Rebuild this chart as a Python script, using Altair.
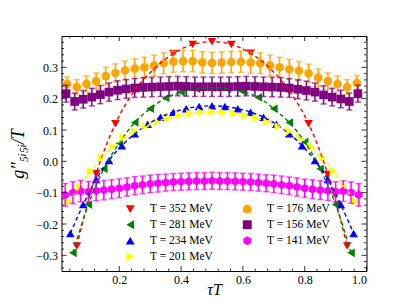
import altair as alt
import pandas as pd

# ---------------- data ----------------
series_labels = ["T = 352 MeV", "T = 281 MeV", "T = 234 MeV", "T = 201 MeV",
                 "T = 176 MeV", "T = 156 MeV", "T = 141 MeV"]
series_nt = [16, 20, 24, 28, 32, 36, 40]
series_fit = [True, True, True, True, False, False, False]
colors = ["#ff0000", "#008000", "#0000ff", "#ffff00", "#ffa500", "#800080", "#ff00ff"]
HEX = "M0,-1L0.866,-0.5L0.866,0.5L0,1L-0.866,0.5L-0.866,-0.5Z"
shapes = ["triangle-down", "triangle-left", "triangle-up", "triangle-right",
          "circle", "square", HEX]

g352 = [-0.27, -0.04, 0.12, 0.227, 0.295, 0.344, 0.373, 0.382, 0.373, 0.345,
        0.297, 0.225, 0.12, -0.042, -0.27]
g281 = [-0.292, -0.138, -0.024, 0.058, 0.124, 0.168, 0.202, 0.221, 0.232, 0.235,
        0.232, 0.222, 0.204, 0.168, 0.124, 0.062, -0.024, -0.138, -0.292]
g234 = [-0.23, -0.138, -0.058, 0.003, 0.05, 0.088, 0.118, 0.141, 0.157, 0.168,
        0.175, 0.177, 0.175, 0.168, 0.157, 0.141, 0.118, 0.088, 0.05, 0.003,
        -0.058, -0.138, -0.23]
g201 = [-0.13, -0.083, -0.032, 0.012, 0.046, 0.075, 0.095, 0.112, 0.126, 0.138,
        0.147, 0.153, 0.157, 0.158, 0.157, 0.153, 0.147, 0.138, 0.126, 0.112,
        0.095, 0.075, 0.046, 0.012, -0.032, -0.082, -0.128]
g176 = [0.247, 0.237, 0.247, 0.256, 0.272, 0.282, 0.29, 0.296, 0.30, 0.306,
        0.313, 0.318, 0.32, 0.32, 0.316, 0.314, 0.315, 0.317, 0.318, 0.315,
        0.313, 0.306, 0.30, 0.294, 0.289, 0.281, 0.267, 0.256, 0.247, 0.237, 0.25]
g156 = [0.216, 0.191, 0.198, 0.205, 0.213, 0.221, 0.227, 0.231, 0.234, 0.236,
        0.237, 0.238, 0.239, 0.24, 0.239, 0.238, 0.238, 0.238, 0.238, 0.238,
        0.239, 0.24, 0.239, 0.238, 0.237, 0.236, 0.234, 0.23, 0.226, 0.221,
        0.212, 0.205, 0.199, 0.191, 0.216]
g141 = [-0.107, -0.10, -0.095, -0.097, -0.094, -0.092, -0.089, -0.086, -0.082,
        -0.078, -0.075, -0.072, -0.07, -0.068, -0.066, -0.065, -0.064, -0.063,
        -0.063, -0.062, -0.063, -0.063, -0.064, -0.065, -0.066, -0.068, -0.07,
        -0.072, -0.075, -0.078, -0.082, -0.086, -0.089, -0.092, -0.094, -0.097,
        -0.095, -0.10, -0.107]

e352 = [0.0] * 15
e281 = [0.0] * 19
e234 = [0.0] * 23
e201 = [0.0] * 27
e176 = [0.022, 0.024, 0.025, 0.026, 0.028, 0.029, 0.030, 0.031, 0.032, 0.033,
        0.033, 0.034, 0.034, 0.034, 0.034, 0.034, 0.034, 0.034, 0.034, 0.034,
        0.033, 0.033, 0.032, 0.031, 0.030, 0.029, 0.028, 0.026, 0.025, 0.024, 0.024]
e156 = [0.027, 0.027, 0.028, 0.028, 0.029, 0.029, 0.030, 0.030, 0.030, 0.031,
        0.031, 0.031, 0.031, 0.031, 0.031, 0.031, 0.031, 0.031, 0.031, 0.031,
        0.031, 0.031, 0.031, 0.031, 0.031, 0.031, 0.030, 0.030, 0.030, 0.029,
        0.029, 0.028, 0.028, 0.027, 0.027]
e141 = [0.036, 0.035, 0.034, 0.033, 0.032, 0.031, 0.030, 0.030, 0.029, 0.029,
        0.028, 0.028, 0.028, 0.027, 0.027, 0.027, 0.027, 0.027, 0.027, 0.027,
        0.027, 0.027, 0.027, 0.027, 0.027, 0.027, 0.027, 0.028, 0.028, 0.028,
        0.029, 0.029, 0.030, 0.030, 0.031, 0.032, 0.033, 0.034, 0.036]

series_vals = [g352, g281, g234, g201, g176, g156, g141]
series_errs = [e352, e281, e234, e201, e176, e156, e141]

x_major = [0.2, 0.4, 0.6, 0.8, 1.0]
x_minor = [0.04, 0.08, 0.12, 0.16, 0.24, 0.28, 0.32, 0.36, 0.44, 0.48, 0.52,
           0.56, 0.64, 0.68, 0.72, 0.76, 0.84, 0.88, 0.92, 0.96]
y_major = [-0.3, -0.2, -0.1, 0.0, 0.1, 0.2, 0.3]
y_minor = [-0.34, -0.32, -0.28, -0.26, -0.24, -0.22, -0.18, -0.16, -0.14, -0.12,
           -0.08, -0.06, -0.04, -0.02, 0.02, 0.04, 0.06, 0.08, 0.12, 0.14, 0.16,
           0.18, 0.22, 0.24, 0.26, 0.28, 0.32, 0.34, 0.36, 0.38]

# ---------------- build table ----------------
rows = []
for lab, nt, vals, errs, fit in zip(series_labels, series_nt, series_vals,
                                    series_errs, series_fit):
    for k, (v, e) in enumerate(zip(vals, errs), start=1):
        rows.append({"series": lab, "tau": k / nt, "g": v, "err": e,
                     "lo": v - e, "hi": v + e, "fit": fit})
df = pd.DataFrame(rows)

W, H = 305, 235
xscale = alt.Scale(domain=[0.013, 1.0], nice=False, zero=False)
yscale = alt.Scale(domain=[-0.35, 0.4], nice=False, zero=False)

color_scale = alt.Scale(domain=series_labels, range=colors)
shape_scale = alt.Scale(domain=series_labels, range=shapes)

legend = alt.Legend(orient="none", legendX=63, legendY=167, columns=2, title=None,
                    symbolSize=80, symbolStrokeWidth=0, labelFont="Liberation Serif",
                    labelFontSize=11.5, labelColor="black", labelOffset=14,
                    columnPadding=28, rowPadding=3, padding=0, symbolOpacity=1)

x_axis = alt.Axis(values=x_major, format=".1f", title="τT", titleFont="Liberation Serif",
                  titleFontStyle="italic", titleFontWeight="normal", titleFontSize=16,
                  titleY=18, titleBaseline="middle", labelPadding=3)
y_axis = alt.Axis(values=y_major, format=".1f", title="g″₅ᵢ₅ᵢ/T",
                  titleFont="Liberation Serif", titleFontStyle="italic",
                  titleFontWeight="normal", titleFontSize=18, titleX=-43,
                  titleBaseline="middle", labelPadding=4)


def X(f):
    return alt.X(f + ":Q", scale=xscale, axis=x_axis, title="τT")


def Y(f):
    return alt.Y(f + ":Q", scale=yscale, axis=y_axis, title="g″₅ᵢ₅ᵢ/T")


color_enc = alt.Color("series:N", scale=color_scale, legend=legend, title=None)
shape_enc = alt.Shape("series:N", scale=shape_scale, legend=legend, title=None)

layers = []
for lab in series_labels:
    sub = alt.Chart(df).transform_filter(alt.datum.series == lab)
    bars = sub.transform_filter(alt.datum.err > 0)
    layers.append(bars.mark_rule(strokeWidth=1.5).encode(
        x=X("tau"), y=Y("lo"), y2="hi:Q", color=color_enc))
    for f in ["lo", "hi"]:
        layers.append(bars.mark_tick(orient="horizontal", size=6, thickness=1.5).encode(
            x=X("tau"), y=Y(f), color=color_enc))
    layers.append(sub.mark_point(filled=True, opacity=1, size=75).encode(
        x=X("tau"), y=Y("g"), color=color_enc, shape=shape_enc))

lines = alt.Chart(df).transform_filter(alt.datum.fit == True).mark_line(
    strokeDash=[4, 3], strokeWidth=1.4, interpolate="monotone").encode(
    x=X("tau"), y=Y("g"), color=color_enc, detail="series:N")
layers.append(lines)


# inward frame ticks
def xticks(vals, length):
    d = pd.DataFrame({"t": vals})
    base = alt.Chart(d).mark_rule(color="black", strokeWidth=0.8)
    return [base.encode(x=X("t"), y=alt.value(H), y2=alt.value(H - length)),
            base.encode(x=X("t"), y=alt.value(0), y2=alt.value(length))]


def yticks(vals, length):
    d = pd.DataFrame({"t": vals})
    base = alt.Chart(d).mark_rule(color="black", strokeWidth=0.8)
    return [base.encode(y=Y("t"), x=alt.value(0), x2=alt.value(length)),
            base.encode(y=Y("t"), x=alt.value(W), x2=alt.value(W - length))]


layers += xticks(x_major, 5) + xticks(x_minor, 2.5) + yticks(y_major, 5) + yticks(y_minor, 2.5)

chart = alt.layer(*layers).properties(
    width=W, height=H,
    autosize=alt.AutoSizeParams(type="none"),
    padding={"left": 53.5, "top": 28, "right": 32.5, "bottom": 26},
    background="white",
).configure_view(stroke="black", strokeWidth=1).configure_axis(
    labelFont="Liberation Serif", labelFontSize=12, labelColor="black",
    domain=False, ticks=False, grid=False, titleColor="black")

chart.save("out.html", embed_options={"renderer": "svg", "actions": False})
